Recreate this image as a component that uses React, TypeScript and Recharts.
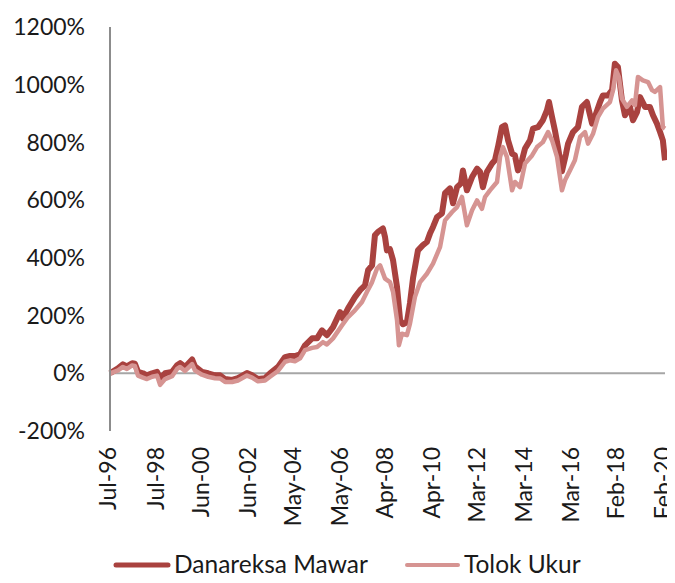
import { LineChart, Line, XAxis, YAxis, ReferenceLine, Legend } from 'recharts';

// Dates as fractional years, values as cumulative return in %
const mawarDates = [
  1996.54, 1996.88, 1997.09, 1997.26, 1997.48, 1997.6, 1997.73, 1997.94, 1998.11, 1998.33,
  1998.54, 1998.67, 1998.88, 1999.18, 1999.39, 1999.52, 1999.73, 2000.03, 2000.15, 2000.45,
  2000.71, 2001.0, 2001.22, 2001.43, 2001.73, 2001.98, 2002.36, 2002.58, 2002.83, 2003.13,
  2003.34, 2003.68, 2003.98, 2004.19, 2004.4, 2004.62, 2004.83, 2005.13, 2005.34, 2005.55,
  2005.76, 2006.02, 2006.32, 2006.44, 2006.66, 2006.95, 2007.17, 2007.38, 2007.51, 2007.68,
  2007.8, 2007.93, 2008.14, 2008.23, 2008.31, 2008.44, 2008.57, 2008.74, 2008.87, 2008.99,
  2009.16, 2009.29, 2009.42, 2009.63, 2009.84, 2010.01, 2010.14, 2010.27, 2010.44, 2010.65,
  2010.78, 2010.99, 2011.12, 2011.29, 2011.46, 2011.54, 2011.71, 2011.93, 2012.14, 2012.27,
  2012.39, 2012.56, 2012.78, 2012.9, 2013.03, 2013.2, 2013.33, 2013.46, 2013.63, 2013.75,
  2013.88, 2014.05, 2014.18, 2014.39, 2014.52, 2014.73, 2014.94, 2015.11, 2015.2, 2015.33,
  2015.45, 2015.58, 2015.75, 2015.92, 2016.01, 2016.22, 2016.43, 2016.6, 2016.81, 2017.03,
  2017.15, 2017.37, 2017.49, 2017.71, 2017.88, 2018.0, 2018.13, 2018.3, 2018.43, 2018.64,
  2018.77, 2018.94, 2019.07, 2019.28, 2019.49, 2019.62, 2019.79, 2019.92, 2020.04, 2020.13,
];
const mawarValues = [
  0, 17, 31, 24, 35, 33, 5, 0, -7, 0,
  5, -17, 0, 5, 28, 35, 22, 48, 24, 5,
  0, -7, -7, -20, -23, -17, 1, -7, -20, -17,
  0, 22, 56, 60, 60, 66, 97, 121, 121, 149,
  132, 160, 212, 190, 225, 264, 288, 305, 357, 374,
  478, 490, 502, 472, 426, 430, 392, 299, 184, 170,
  177, 243, 330, 426, 444, 455, 484, 507, 541, 554,
  624, 641, 589, 645, 658, 703, 634, 680, 709, 698,
  645, 698, 727, 738, 784, 853, 859, 807, 761, 755,
  703, 738, 779, 807, 848, 853, 877, 911, 940, 888,
  842, 784, 700, 760, 796, 836, 853, 923, 940, 865,
  888, 940, 963, 963, 981, 1073, 1061, 946, 894, 923,
  877, 905, 957, 923, 923, 894, 865, 836, 807, 738,
];

const tolokDates = [
  1996.54, 1996.88, 1997.09, 1997.26, 1997.48, 1997.6, 1997.73, 1997.94, 1998.11, 1998.33,
  1998.54, 1998.67, 1998.88, 1999.18, 1999.39, 1999.52, 1999.73, 2000.03, 2000.15, 2000.45,
  2000.71, 2001.0, 2001.22, 2001.43, 2001.73, 2001.98, 2002.36, 2002.58, 2002.83, 2003.13,
  2003.34, 2003.68, 2003.98, 2004.19, 2004.4, 2004.62, 2004.83, 2005.13, 2005.34, 2005.59,
  2005.76, 2006.02, 2006.4, 2006.66, 2006.95, 2007.25, 2007.46, 2007.68, 2007.89, 2008.02,
  2008.23, 2008.44, 2008.57, 2008.74, 2008.82, 2008.95, 2009.16, 2009.29, 2009.5, 2009.72,
  2010.01, 2010.27, 2010.57, 2010.78, 2011.08, 2011.29, 2011.5, 2011.71, 2011.93, 2012.14,
  2012.35, 2012.48, 2012.69, 2012.99, 2013.12, 2013.24, 2013.41, 2013.63, 2013.75, 2013.97,
  2014.18, 2014.48, 2014.69, 2014.94, 2015.16, 2015.33, 2015.54, 2015.75, 2015.88, 2016.09,
  2016.3, 2016.52, 2016.73, 2016.86, 2017.07, 2017.28, 2017.49, 2017.79, 2017.92, 2018.05,
  2018.17, 2018.3, 2018.51, 2018.73, 2018.85, 2018.98, 2019.19, 2019.41, 2019.58, 2019.7,
  2019.92, 2020.04, 2020.13,
];
const tolokValues = [
  0, 10, 22, 15, 27, 25, -8, -15, -20, -12,
  -8, -40, -20, -10, 15, 22, 8, 32, 10, -5,
  -12, -17, -18, -30, -30, -25, -8, -15, -28, -25,
  -12, 8, 40, 45, 42, 52, 80, 88, 91, 108,
  100, 121, 166, 195, 218, 247, 282, 316, 363, 374,
  328, 316, 282, 184, 97, 137, 132, 172, 264, 316,
  345, 380, 438, 530, 559, 576, 611, 513, 565, 599,
  570, 611, 634, 663, 750, 784, 750, 634, 663, 645,
  727, 755, 784, 801, 836, 807, 750, 634, 669, 703,
  738, 819, 836, 796, 830, 888, 917, 940, 981, 1050,
  1027, 952, 923, 946, 929, 1027, 1015, 1009, 981, 975,
  992, 853, 848,
];

const tickLabels = [
  'Jul-96', 'Jul-98', 'Jun-00', 'Jun-02', 'May-04', 'May-06', 'Apr-08',
  'Apr-10', 'Mar-12', 'Mar-14', 'Mar-16', 'Feb-18', 'Feb-20',
];
const yTicks = [-200, 0, 200, 400, 600, 800, 1000, 1200];

const MONTHS = ['Jan', 'Feb', 'Mar', 'Apr', 'May', 'Jun', 'Jul', 'Aug', 'Sep', 'Oct', 'Nov', 'Dec'];
const labelToYear = (s: string) => {
  const [m, y] = s.split('-');
  return 1900 + Number(y) + (Number(y) < 50 ? 100 : 0) + (MONTHS.indexOf(m) + 0.5) / 12;
};
const xTicks = tickLabels.map(labelToYear);
const labelByTick = new Map(xTicks.map((t, i) => [t, tickLabels[i]]));

const mawarData = mawarDates.map((t, i) => ({ t, v: mawarValues[i] }));
const tolokData = tolokDates.map((t, i) => ({ t, v: tolokValues[i] }));

const DARK = '#A9423F';
const LIGHT = '#D69492';
const FONT = 'Lato, "Open Sans", sans-serif';
const TEXT = '#1a1a1a';

const RotatedTick = ({ x, y, payload }: any) => (
  <text
    x={x}
    y={y}
    dy="0.28em"
    transform={`rotate(-90, ${x}, ${y})`}
    textAnchor="end"
    fontSize={23}
    fontFamily={FONT}
    fill={TEXT}
  >
    {labelByTick.get(payload.value)}
  </text>
);

// legend drawn as its own small svg
const LegendContent = () => (
  <svg width={667} height={42}>
    <line x1={108} x2={160} y1={24} y2={24} stroke={DARK} strokeWidth={5} strokeLinecap="round" />
    <text x={166} y={32} fontSize={24.5} fontFamily={FONT} fill={TEXT}>Danareksa Mawar</text>
    <line x1={399} x2={450} y1={24} y2={24} stroke={LIGHT} strokeWidth={4} strokeLinecap="round" />
    <text x={456} y={32} fontSize={24.5} fontFamily={FONT} fill={TEXT}>Tolok Ukur</text>
  </svg>
);

const App = () => {
  return (
    <>
      <style>{'.recharts-surface { overflow: visible; }'}</style>
      <LineChart width={667} height={575} margin={{ top: 19, right: 10, left: 22, bottom: 5 }}>
        <XAxis
          dataKey="t"
          type="number"
          domain={[xTicks[0], xTicks[xTicks.length - 1]]}
          ticks={xTicks}
          interval={0}
          axisLine={false}
          tickLine={false}
          tick={<RotatedTick />}
          tickSize={0}
          tickMargin={16}
          height={105}
          allowDuplicatedCategory={false}
        />
        <YAxis
          domain={[-200, 1200]}
          ticks={yTicks}
          interval={0}
          tickFormatter={(v: number) => `${v}%`}
          axisLine={{ stroke: '#8c8c8c', strokeWidth: 2 }}
          tickLine={false}
          tickSize={0}
          tickMargin={25}
          width={80}
          tick={{ fontSize: 23, fontFamily: FONT, fill: TEXT }}
        />
        <ReferenceLine y={0} stroke="#a6a6a6" strokeWidth={2} />
        <Line
          data={mawarData}
          dataKey="v"
          name="Danareksa Mawar"
          stroke={DARK}
          strokeWidth={6}
          dot={false}
          isAnimationActive={false}
          strokeLinejoin="round"
        />
        <Line
          data={tolokData}
          dataKey="v"
          name="Tolok Ukur"
          stroke={LIGHT}
          strokeWidth={4.5}
          dot={false}
          isAnimationActive={false}
          strokeLinejoin="round"
        />
        <Legend
          verticalAlign="bottom"
          content={<LegendContent />}
          wrapperStyle={{ left: 0, top: 533, bottom: 'auto', width: 667, height: 42 }}
        />
      </LineChart>
    </>
  );
};

export default App;
